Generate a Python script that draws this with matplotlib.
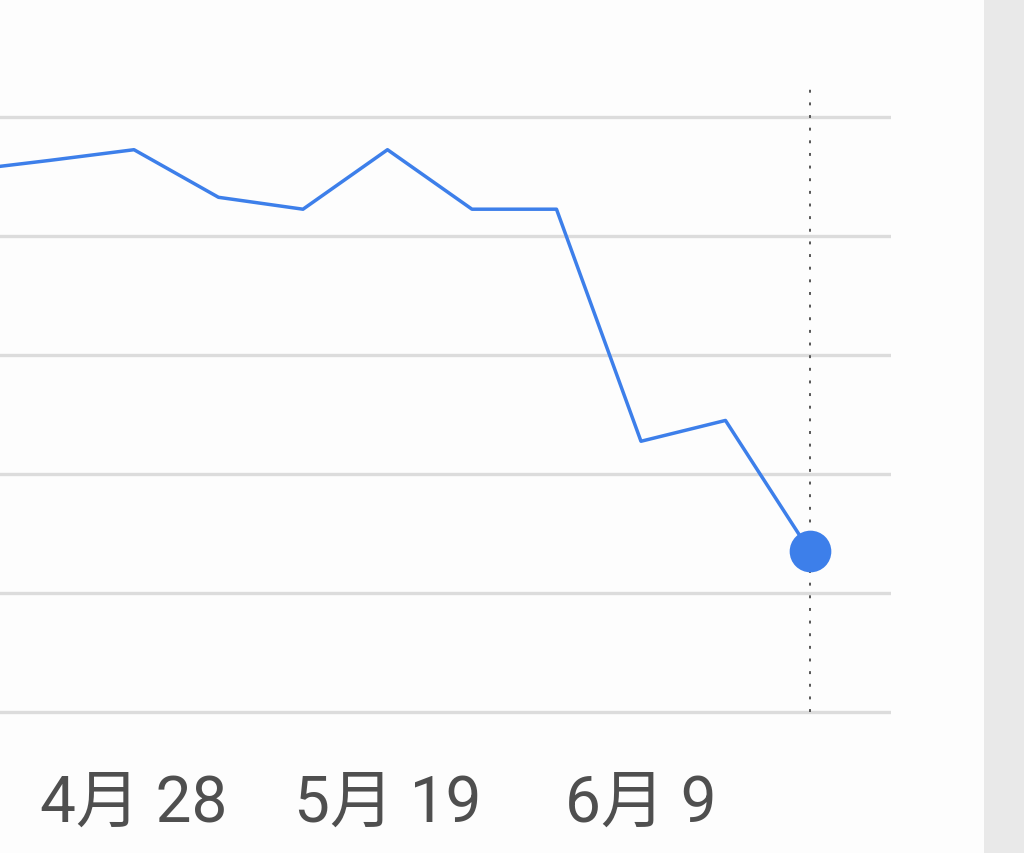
import numpy as np
import matplotlib
matplotlib.use('Agg')
import matplotlib.pyplot as plt

# weekly search interest (Google Trends style, 0-100)
weeks = ['4/14', '4/21', '4/28', '5/5', '5/12', '5/19', '5/26', '6/2', '6/9', '6/16', '6/23']
interest = [91, 92.7, 94.5, 86.5, 84.5, 94.5, 84.5, 84.5, 45.5, 49, 27]
tick_idx = [2, 5, 8]
tick_labels = ['4月 28', '5月 19', '6月 9']
grid_vals = [0, 20, 40, 60, 80, 100]

blue = '#3d7fea'
W, H = 1024, 854

fig = plt.figure(figsize=(W / 100, H / 100), dpi=100, facecolor='#fdfdfd')

# grey side strip on the right
fig.add_artist(plt.Rectangle((984 / W, 0), 40 / W, 1, transform=fig.transFigure,
                             facecolor='#e9e9e9', edgecolor='none'))

# axes placement in pixels: x 0..891, y 89..737 (from top)
ymin, ymax = -4, 104.87
top_px, bot_px = 89, 736.8
ax = fig.add_axes([0, (H - bot_px) / H, 891 / W, (bot_px - top_px) / H])
ax.set_facecolor('none')
x = np.arange(len(weeks))
ax.set_xlim(0.414, 10.959)
ax.set_ylim(ymin, ymax)

for g in grid_vals:
    ax.axhline(g, color='#dcdcdc', lw=2.4, zorder=1)

ax.vlines(x[-1], 0, ymax, colors='#555555', lw=1.4,
          linestyles=(0, (1.5, 5)), zorder=2)
ax.plot(x, interest, color=blue, lw=2.5, zorder=3)
ax.plot(x[-1], interest[-1], 'o', color=blue, ms=30, mec='none', zorder=4)

ax.set_yticks([])
ax.set_xticks(x[tick_idx])
ax.set_xticklabels(tick_labels, fontsize=46, color='#4f4f4f',
                   family=['Roboto', 'Noto Sans CJK JP'])
ax.tick_params(axis='x', length=0, pad=26)
for s in ax.spines.values():
    s.set_visible(False)

fig.savefig('out.png', dpi=100, facecolor=fig.get_facecolor())
